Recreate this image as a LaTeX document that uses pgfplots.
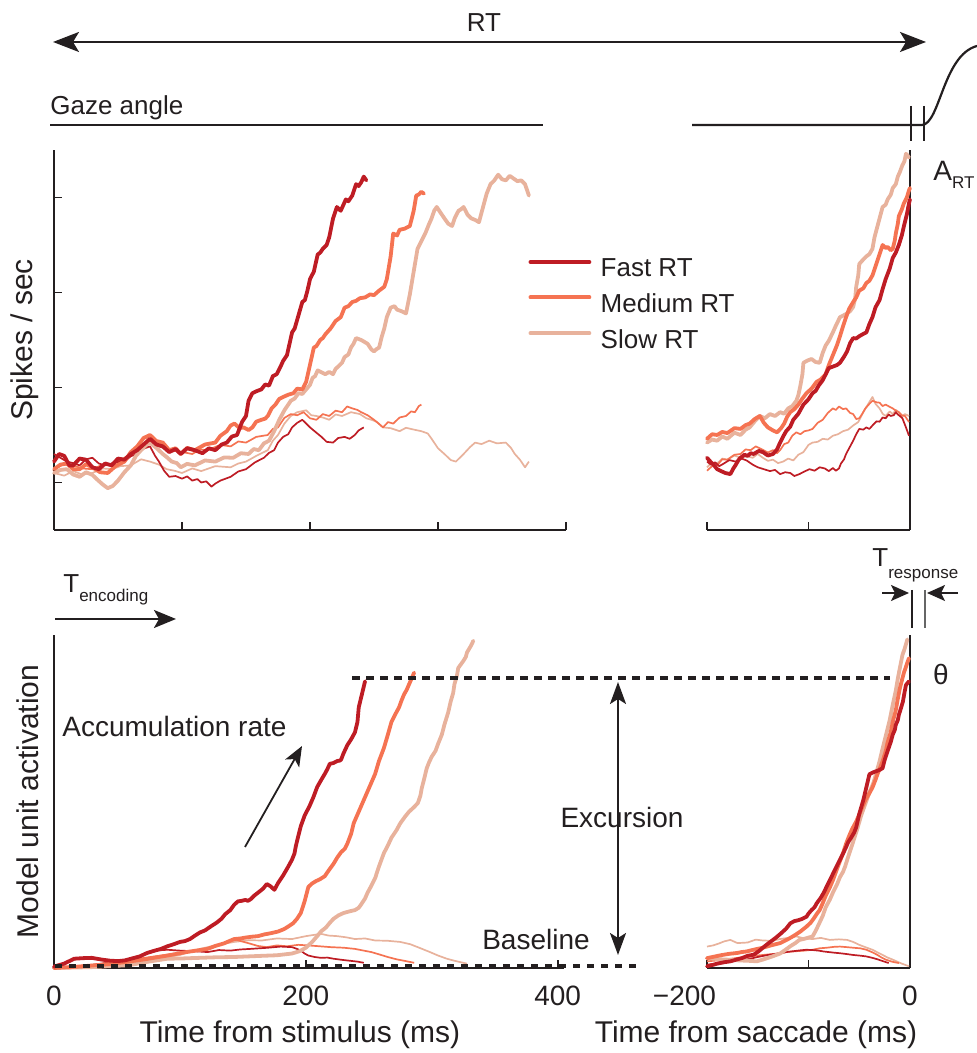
\documentclass[border=0pt]{standalone}
\usepackage{pgfplots}
\pgfplotsset{compat=1.18}
\usepackage{fontspec}
\setmainfont{Liberation Sans}
\usetikzlibrary{arrows.meta}

\definecolor{fastc}{RGB}{190,28,36}
\definecolor{medc}{RGB}{245,115,82}
\definecolor{slowc}{RGB}{232,178,156}
\definecolor{ink}{RGB}{35,31,32}

\newcommand\fmain{\fontsize{14}{17}\selectfont}
\newcommand\flab{\fontsize{15}{18}\selectfont}
\newcommand\fsmall{\fontsize{13}{15}\selectfont}
\newcommand\ftiny{\fontsize{8.5}{10}\selectfont}

\pgfplotsset{
  panel/.style={
    scale only axis, clip=false,
    axis line style={line width=1.2pt, ink},
    every tick/.style={line width=0.9pt, ink},
    tick align=inside, major tick length=4pt,
    tick label style={font=\fmain, text=ink},
    xticklabel style={anchor=base, yshift=-18.5pt},
    label style={font=\flab, text=ink},
  },
  strong/.style={line width=1.9pt, line join=round, line cap=round},
  weak/.style={line width=0.85pt, line join=round, forget plot},
}

\begin{document}
\begin{tikzpicture}
\path[use as bounding box] (0pt,0pt) rectangle (488.5pt,526.5pt);

% ---------- neural data, aligned on stimulus ----------
\begin{axis}[panel, at={(27pt,261.5pt)}, anchor=south west,
  width=256pt, height=190pt,
  xmin=0, xmax=400, ymin=0, ymax=100,
  axis x line*=bottom, axis y line*=left,
  xtick={0,100,200,300,400}, xticklabels={},
  ytick={12.5,37.5,62.5,87.5}, yticklabels={},
  ylabel={Spikes / sec},
  ylabel style={at={(axis description cs:-0.03,0.5)}, anchor=south, inner sep=0pt},
  reverse legend, legend cell align=left,
  legend image code/.code={\draw[#1] (0pt,3.6pt) -- (29.5pt,3.6pt);},
  legend style={draw=none, fill=none, at={(axis description cs:0.926,0.72)},
    anchor=north west, inner sep=0pt, row sep=5pt, font=\fsmall, text=ink,
    nodes={inner sep=1pt}, /tikz/every odd column/.append style={column sep=3.7pt}},
]
\addplot[weak, slowc] coordinates {(0,15)(8,14.3)(15,15.5)(22,14.6)(30,15)(38,16.2)(45,16)(52,16.8)(60,17)(68,18.6)(75,18)(82,17.2)(88,16)(94,15.6)(100,15)(108,16.2)(115,15.5)(126,16.8)(138,16.5)(144,17.5)(150,18)(158,19.5)(167,21)(171,23.5)(175,25)(180,28)(185,30)(190,31)(197,31.5)(201,30.2)(205,30)(210,29.6)(215,29)(220,30.4)(225,30)(232,31)(239,30.5)(244,29.4)(248,29)(252,28.5)(257,27)(263,26.8)(270,26)(275,26.9)(280,26.5)(287,26)(292,25.4)(295,24)(300,21.5)(305,20)(310,18.4)(314,18)(320,20)(325,21.8)(329,23)(334,22.6)(340,23.5)(346,22.8)(353,23)(357,21.6)(360,20)(364,18.5)(368,16.5)(371,18)};
\addplot[weak, medc] coordinates {(0,16)(7,17.2)(15,17)(22,16.2)(30,16)(38,17.2)(45,17)(52,18.4)(60,20)(68,21.8)(75,23)(82,22)(90,21)(99,20.6)(108,20)(114,21.2)(120,21)(130,22.4)(138,22)(144,23.3)(150,23)(158,24.5)(167,25)(171,26.6)(175,27)(180,29.5)(185,30.5)(190,30.2)(195,31)(200,29.4)(205,29)(210,30.5)(215,30)(220,31.4)(225,31)(229,32.5)(233,32)(237,31.6)(240,31)(245,30.2)(250,29)(254,27.9)(257,27)(261,28.4)(265,28)(270,29.6)(275,30)(279,31.2)(282,31)(285,32.6)(287,33)};
\addplot[weak, fastc] coordinates {(0,20)(5,19)(10,18)(15,17.6)(20,17)(25,18.6)(30,19)(35,17.5)(40,17)(48,17.8)(55,18)(60,19.4)(65,20)(70,21.4)(75,22)(79,19.5)(82,18)(86,15.6)(90,14)(95,14.2)(100,13.5)(104,14.1)(108,13)(112,13.4)(115,12.5)(119,12.8)(123,11.4)(126,12.2)(130,13)(134,13.5)(138,14)(144,15.4)(150,16)(157,17.8)(164,19)(168,20.3)(172,21)(175,23)(179,24.5)(183,25.2)(186,27)(190,28.2)(194,29)(197,28)(200,27)(205,25.6)(209,24.5)(213,23.2)(218,23)(222,24.2)(227,24.5)(231,24)(235,25)(238,26.2)(242,27)};
\addplot[strong, slowc] coordinates {(0,15)(5,15.8)(10,16)(15,14.6)(20,14)(25,15.2)(30,14.5)(34,13.2)(38,12)(42,11)(46,11.6)(50,13)(55,15.2)(60,17)(64,19.5)(68,21)(72,22.4)(75,23)(80,21.6)(85,20)(88,19.2)(92,18)(96,17.6)(99,16.5)(104,17.4)(110,17)(118,18.3)(126,18)(133,19.1)(140,19)(146,20.2)(152,20)(156,21.3)(160,21)(164,22.8)(168,23.5)(172,26)(176,29)(180,31.5)(185,34)(188,34.6)(191,36)(194,35.8)(197,37)(200,38.2)(202,40)(204,40.5)(206,42)(209,41.5)(212,41)(215,41.6)(218,41)(220,42.4)(222,43)(225,44)(227,45.5)(230,46.2)(232,48)(234,49)(236,50.5)(240,50)(245,49)(248,47.5)(250,47)(252,47.6)(254,48)(256,50.8)(258,53)(260,56)(263,58.5)(266,58.9)(268,58)(272,57.5)(275,57)(278,62)(280,66)(282,70)(284,74)(287,76)(290,78)(293,80.5)(295,82)(297,84)(299,85)(302,83.5)(305,82)(308,80.6)(311,80)(313,82)(316,84)(318,84.4)(320,85)(323,83)(326,82)(329,81.6)(332,81)(334,83.5)(336,86)(338,88.5)(341,91)(344,92)(347,93.5)(350,92.3)(353,92)(356,93.2)(359,92.5)(362,91.8)(365,92)(368,91)(371,88)};
\addlegendentry{Slow RT}
\addplot[strong, medc] coordinates {(0,16)(5,17.2)(10,17.5)(15,16)(20,16)(25,17.3)(30,16.5)(36,15.2)(42,15)(48,16.8)(55,18)(60,20.5)(65,22)(70,24.2)(75,25)(80,23.4)(85,23)(90,21)(95,21.5)(99,20)(104,21.6)(110,21)(118,22.5)(126,23)(130,24.8)(135,26)(138,27.5)(141,28)(145,26.8)(148,27)(152,26.3)(155,27)(158,28.5)(162,29)(165,29.3)(167,30)(170,32)(173,33)(176,34.5)(179,35)(183,35.6)(187,36)(190,37.2)(194,37)(197,39)(199,42)(201,45)(203,48)(205,48.4)(208,50)(210,50.5)(212,51.5)(216,53)(220,55)(224,56)(227,58.5)(230,58.9)(233,60)(236,60.3)(239,61)(243,61.2)(247,62)(250,61.8)(254,63)(258,64)(260,66)(262,70)(263,72)(265,78)(268,77.5)(270,79)(274,79.3)(278,80)(281,84)(283,88)(285,88.3)(287,89)(289,88.5)};
\addlegendentry{Medium RT}
\addplot[strong, fastc] coordinates {(0,18)(4,20)(8,19.5)(12,17)(15,17)(20,18.8)(25,18.5)(30,16.5)(35,16)(40,17.5)(45,17)(50,18.8)(55,18.5)(60,20)(65,21)(70,22.5)(75,24)(80,22.5)(85,22)(90,20.5)(95,21.3)(99,20)(104,21.5)(110,21)(116,20.2)(121,21.5)(126,21)(131,22.5)(135,23)(139,24.6)(143,25)(147,28.5)(150,30)(152,34)(155,36)(158,36.5)(162,37)(165,38.3)(168,38)(171,40.5)(174,41)(177,43)(179,44.5)(182,46)(184,49)(186,52)(188,53)(191,56.5)(194,60)(196,60.5)(198,63)(200,66)(203,68)(206,72.5)(208,73)(210,74)(213,75)(215,77)(218,82)(221,85)(224,84)(226,85.5)(228,87)(230,86.5)(233,88)(236,91)(238,90.5)(240,91.5)(242,93)(244,92)};
\addlegendentry{Fast RT}
\end{axis}

% ---------- neural data, aligned on saccade ----------
\begin{axis}[panel, at={(353.5pt,261.5pt)}, anchor=south west,
  width=101.5pt, height=190pt,
  xmin=-200, xmax=0, ymin=0, ymax=100,
  axis x line*=bottom, axis y line*=right,
  xtick={-200,-100,0}, xticklabels={}, ytick=\empty,
]
\addplot[weak, slowc] coordinates {(-200,16.5)(-195,17.8)(-190,17.5)(-185,18.8)(-180,18.5)(-173,19.6)(-167,19)(-161,19.4)(-155,19)(-150,20)(-145,19)(-140,18.2)(-135,18.5)(-130,17.6)(-125,18)(-120,18.8)(-115,18.3)(-110,19.8)(-105,20.5)(-100,22.4)(-96,23)(-91,23.2)(-86,24)(-81,23.8)(-76,24.8)(-71,25.2)(-66,26)(-61,26.4)(-56,27.5)(-51,28.4)(-46,31)(-42,32.8)(-37,35)(-34,33.2)(-30,32)(-27,30.6)(-24,30)(-20,31.2)(-17,30.5)(-14,31.6)(-11,31)(-8,29.8)(-5,30.5)(-1,30)};
\addplot[weak, medc] coordinates {(-200,15.6)(-195,16.8)(-190,17)(-185,18.6)(-180,18.5)(-173,19.8)(-167,20)(-162,21.2)(-157,21)(-152,22)(-148,21.5)(-140,20.4)(-135,21)(-131,20.2)(-128,21)(-124,22.6)(-120,23)(-116,24.8)(-112,25.7)(-108,25.2)(-104,26)(-100,26.2)(-96,26.6)(-91,28.2)(-86,29)(-81,30.8)(-76,32)(-73,31.6)(-70,32.5)(-66,31.8)(-63,32)(-59,30.8)(-56,30.5)(-53,29.2)(-50,29.4)(-47,30.6)(-44,32)(-40,33.2)(-37,34)(-33,33.6)(-30,33.5)(-27,32.6)(-24,33)(-20,32.4)(-17,32)(-14,31.4)(-11,31)(-8,30.2)(-5,30)(-1,28.4)};
\addplot[weak, fastc] coordinates {(-200,18)(-196,17.2)(-192,17.8)(-188,16.8)(-184,17.4)(-178,18.4)(-172,18)(-166,18.8)(-161,18.3)(-155,17.2)(-150,16.5)(-144,16)(-138,15.5)(-133,15.8)(-128,14.7)(-123,15.2)(-118,15)(-114,14.2)(-109,14.7)(-104,15.4)(-99,16)(-94,15.6)(-89,16.5)(-84,16.2)(-80,15.5)(-76,16.3)(-73,15.6)(-70,16.2)(-68,17.5)(-65,18.6)(-63,20)(-59,22)(-56,23.5)(-53,25.2)(-50,26.6)(-46,26.4)(-43,27)(-40,26.6)(-37,27.5)(-33,28.6)(-30,28.5)(-27,29.6)(-24,29.4)(-21,30.4)(-19,30)(-16,30.2)(-14,31)(-12,30.4)(-10,30)(-7.5,29.4)(-4,27)(-1,24.8)};
\addplot[strong, slowc] coordinates {(-200,23)(-195,23.8)(-190,23.5)(-185,24.6)(-180,24)(-173,25.6)(-167,25)(-162,26.4)(-158,27)(-153,28.6)(-148,30)(-143,29.4)(-138,30.5)(-133,30)(-128,31)(-124,30.6)(-120,32)(-116,32.6)(-112,34)(-110,35.5)(-108,38)(-106,41)(-105,44)(-101,44.6)(-97,45)(-93,44.2)(-89,44)(-86,46.6)(-83,48.6)(-80,49.8)(-76,52)(-73,53.8)(-69,56)(-66,56.4)(-62,57)(-59,57.6)(-56,58.7)(-54,61)(-53,64)(-51,67)(-50,70)(-46,71.2)(-43,72)(-40,72.6)(-37,74)(-35,77)(-32,80)(-30,82)(-27,85)(-24,85.6)(-22,87)(-19,88.2)(-17,90)(-14,91)(-12,93)(-10,94.2)(-7.5,96)(-5.5,97)(-4,99)(-2.5,98.6)(-1,98)};
\addplot[strong, medc] coordinates {(-200,24)(-195,25.2)(-190,25)(-185,25.8)(-180,25.5)(-173,26.8)(-167,26.6)(-162,27.6)(-158,28)(-153,29.2)(-148,30)(-144,28.2)(-140,27)(-135,26.2)(-131,25.7)(-127,26.8)(-124,28)(-121,29.8)(-118,31)(-114,31.8)(-110,33)(-106,34.6)(-102,36)(-97,37.2)(-92,39)(-88,39.6)(-83,41)(-80,43.4)(-76,46)(-72,48.6)(-69,51)(-66,53.6)(-63,56)(-60,58.2)(-56,60)(-53,61.2)(-50,63)(-46,63.6)(-43,65)(-40,65.6)(-37,67)(-34,69.4)(-32,71)(-29,73.4)(-27,75)(-24,74.2)(-22,74.5)(-19,73.6)(-17,74)(-15,76.2)(-14,78)(-12,80.6)(-11,82.6)(-8,84.4)(-6,86)(-3,87.6)(-1,89.4)(0,90)};
\addplot[strong, fastc] coordinates {(-200,19)(-196,17.8)(-193,17)(-190,16)(-187,15.6)(-182,15)(-177,14.7)(-174,16.2)(-172,17)(-169,18.4)(-167,19)(-163,19.8)(-160,19.5)(-157,20.2)(-154,20)(-149,20.8)(-145,20.5)(-140,19.6)(-135,20)(-131,21.2)(-128,23)(-125,24.6)(-122,26)(-118,27.2)(-115,29)(-110,30.6)(-105,33)(-100,34.4)(-96,36)(-93,36.6)(-90,38)(-86,39.4)(-83,41)(-80,42.6)(-76,43)(-72,43.4)(-69,44)(-65,45.6)(-62,47)(-59,49.2)(-56,50.5)(-53,50.4)(-50,51)(-46,51.6)(-43,52)(-40,54.2)(-37,56)(-34,58.6)(-30,60.5)(-27,63.4)(-24,66)(-20,68.8)(-17,71.6)(-14,73)(-11,75)(-8,77.6)(-6,80)(-3,83.2)(-1,86)(0,87)};
\end{axis}

% ---------- model, aligned on stimulus ----------
\begin{axis}[panel, at={(27pt,42.5pt)}, anchor=south west,
  width=255pt, height=166.5pt,
  xmin=0, xmax=405, ymin=0, ymax=115,
  axis x line*=bottom, axis y line*=left,
  xtick={0,200,400}, xticklabels={0,200,400}, ytick=\empty,
  xlabel={Time from stimulus (ms)},
  xlabel style={at={(axis description cs:0.482,-0.2252)}, anchor=base, inner sep=0pt},
  ylabel={Model unit activation},
  ylabel style={at={(axis description cs:-0.03,0.5)}, anchor=south, inner sep=0pt},
]
\addplot[weak, slowc] coordinates {(0,0)(40,1)(80,3)(100,4.5)(116,6.6)(130,8)(143,9)(155,9.6)(165,9.5)(177,10.2)(189,10)(200,11)(212,11.8)(218,11.2)(225,11)(232,10.6)(239,10)(247,10.2)(255,9.5)(265,9.4)(275,9)(283,8.2)(290,7)(298,5.6)(305,4.3)(312,3.2)(318,2.5)(328,1.5)};
\addplot[weak, medc] coordinates {(0,0)(40,1.5)(80,4)(105,5.5)(122,6.6)(130,7.8)(135,8.5)(143,10)(149,9.2)(155,8.5)(162,7.6)(169,7.2)(177,7.8)(185,7.5)(194,8)(202,7.8)(211,7.5)(220,7.2)(230,7)(239,6.6)(246,6)(252,5.5)(259,4.6)(265,3.8)(272,3)(278,2.5)(286,1.8)};
\addplot[weak, fastc] coordinates {(0,0)(30,1)(60,3)(80,6)(90,6.3)(100,6)(111,5.8)(122,5.5)(131,6.2)(140,6)(148,6.4)(156,6.6)(163,6.8)(170,7)(180,7.4)(189,7.2)(193,6.6)(196,6)(199,5)(202,4.3)(207,3.8)(212,3.5)(217,3.6)(222,3.2)(229,2.8)(235,2.5)(241,2.2)(246,1.8)};
\addplot[strong, slowc] coordinates {(0,0)(30,0.3)(60,1)(75,2.2)(90,3.2)(102,3.3)(115,3.5)(129,3.7)(143,3.8)(154,4)(165,4.2)(177,4.4)(189,5)(195,5.8)(200,7)(205,9)(209,11)(212,12.6)(216,14)(219,15.6)(222,17)(226,18.2)(230,19)(235,19.6)(239,20)(242,20.8)(244,22)(247,24)(249,26)(252,28.4)(255,31)(258,35)(262,39.7)(265,42.2)(268,45)(272,47.6)(275,50)(279,52.4)(282,54)(286,55.6)(289,57)(291,59.6)(292,62)(294,65.4)(296,69)(298,71.2)(300,73)(303,75)(305,77.4)(308,80.6)(310,84)(313,88.2)(315,92)(317,95)(318,98)(320,101)(321,103.6)(323,104.8)(325,106)(327,107.4)(328,109)(331,111.2)(333,113)};
\addplot[strong, medc] coordinates {(0,0)(20,0.5)(40,1.2)(56,2)(72,3)(90,4.3)(105,5.5)(122,6.6)(128,7.6)(135,8.5)(143,10)(148,10.2)(152,10.5)(157,10.8)(162,11)(167,11.6)(172,12)(178,12.6)(183,13.5)(187,14.6)(190,15.5)(193,17)(196,19)(199,23)(202,28)(205,29.2)(208,30)(211,30.6)(215,31.7)(218,33.6)(222,36)(225,38.2)(228,40)(231,41.2)(233,43)(236,46.4)(238,50)(242,54)(246,58)(250,62)(255,67)(258,71.4)(262,76)(265,80.4)(268,85)(271,87.6)(274,90)(276,92.4)(278,94.5)(280,96)(282,98)(284,100)(286,102)};
\addplot[strong, fastc] coordinates {(0,0.5)(8,1.5)(16,3.2)(23,3.4)(30,3.5)(38,2.9)(45,2.5)(51,2.4)(56,2.6)(62,3.3)(68,4)(74,5.2)(80,6)(85,6.6)(90,7.5)(95,8.2)(100,9)(104,9.3)(108,10)(112,11.2)(116,12.3)(120,13)(125,14.5)(129,15.6)(133,17)(136,18.6)(140,20)(143,21.8)(146,23)(149,23.2)(152,23.5)(154,23.2)(156,23.7)(159,25)(162,26)(166,27.4)(169,29)(172,28.2)(175,27)(178,29.4)(182,32)(186,35)(189,37.4)(191,39.6)(192,42)(194,45.6)(196,49)(199,52.6)(203,56)(206,59)(209,62.5)(212,64.8)(215,67)(217,68.6)(219,70.5)(222,70.8)(225,71.5)(227,71.6)(228,72)(230,74.2)(233,77)(236,79)(239,81.4)(241,85)(242,90)(244,93.6)(247,99)};
\end{axis}

% ---------- model, aligned on saccade ----------
\begin{axis}[panel, at={(353.5pt,42.5pt)}, anchor=south west,
  width=101.5pt, height=166.5pt,
  xmin=-200, xmax=0, ymin=0, ymax=115,
  axis x line*=bottom, axis y line*=right,
  xtick={-200,-100,0}, xticklabels={\makebox[0pt][r]{−200\hspace*{-4.5pt}},,0}, ytick=\empty,
  xlabel={Time from saccade (ms)},
  xlabel style={at={(axis description cs:0.241,-0.2252)}, anchor=base, inner sep=0pt},
]
\addplot[weak, slowc] coordinates {(-200,7.4)(-194,7.8)(-188,8.5)(-183,9.2)(-177,9.7)(-170,8.6)(-160,8.8)(-152,9.8)(-145,9.5)(-136,9.4)(-128,10)(-120,10.4)(-112,10.9)(-104,10.2)(-96,10)(-88,10.4)(-79,9.7)(-70,9.9)(-62,9.7)(-56,9)(-50,8)(-44,7.2)(-37,6.3)(-32,5.4)(-27,4.5)(-22,3.6)(-17,2.9)(-12,2.1)(-8,1.5)(-1,0.6)};
\addplot[weak, medc] coordinates {(-200,2.3)(-190,2.6)(-180,3)(-170,3.5)(-161,3.7)(-153,4.2)(-145,4.5)(-136,4.8)(-128,5.1)(-120,5.6)(-112,5.8)(-104,6)(-96,6.3)(-89,6.8)(-82,7)(-75,7.3)(-69,7.4)(-62,7.2)(-56,7)(-49,6.8)(-43,6.3)(-37,5.4)(-32,4.5)(-28,3.6)(-24,2.9)(-18,2.2)(-11,1.7)};
\addplot[weak, fastc] coordinates {(-200,1.1)(-190,1.6)(-180,2)(-170,2.6)(-160,3)(-150,3.8)(-140,4.5)(-134,4.8)(-128,5.1)(-122,5.5)(-115,5.8)(-108,6.1)(-102,6.3)(-96,6.2)(-90,6)(-85,5.7)(-80,5.5)(-75,5.3)(-69,5.1)(-62,4.8)(-56,4.5)(-50,4.3)(-43,4)(-37,3.5)(-32,3)(-27,2.4)(-21,1.7)};
\addplot[strong, slowc] coordinates {(-200,3.4)(-193,3.2)(-187,3)(-181,2.9)(-175,2.8)(-168,2.6)(-160,2.5)(-155,2.4)(-151,2.3)(-146,2.8)(-140,3.5)(-134,4.2)(-128,5)(-123,6.2)(-118,7.5)(-113,8.6)(-109,9.7)(-105,10)(-102,10.3)(-99,10.6)(-96,10.9)(-93,12.8)(-90,15)(-86,18)(-83,21)(-79,23.6)(-76,26)(-72,28.8)(-69,31.4)(-66,33.2)(-64,35)(-62,37.2)(-60,39.4)(-56,43.6)(-52,48)(-48,52.8)(-43,57.7)(-40,60.6)(-36,64)(-33,67.6)(-30,71.4)(-27,75.8)(-24,80)(-20,85.6)(-17,90.9)(-14,95.8)(-12,100)(-10,103.6)(-7.5,108)(-5,110.6)(-2.6,113.5)};
\addplot[strong, medc] coordinates {(-200,3.4)(-192,4)(-185,4.5)(-178,4.9)(-170,5.2)(-166,5.5)(-161,5.7)(-153,6.4)(-145,7)(-137,7.8)(-128,8.6)(-121,9.8)(-115,11)(-108,12.6)(-102,14.3)(-98,15.6)(-95,17)(-92,18.6)(-89,20)(-86,22.4)(-83,25)(-79,27.8)(-76,30.3)(-73,33.2)(-70,36)(-66,39.6)(-63,42.9)(-60,45.6)(-57,48)(-53,50.6)(-50,53)(-47,55.6)(-44,58)(-40,60.4)(-37,62.3)(-34,65)(-32,67)(-29,69.6)(-27,71.4)(-24,74.8)(-22,78)(-19,81.4)(-17,85)(-14,89)(-12,93)(-10,96.6)(-7.5,100)(-6,102)(-4,104)(-2.5,105.6)(-1,107)};
\addplot[strong, fastc] coordinates {(-200,0.6)(-195,1)(-190,1.5)(-183,2)(-177,2.3)(-171,2.9)(-165,3.5)(-160,4.2)(-154,4.6)(-149,5.8)(-145,7)(-140,8.4)(-135,9.7)(-131,10.8)(-127,12)(-122,13.6)(-118,15.4)(-114,16.2)(-110,16.5)(-106,17)(-102,17.7)(-100,18.8)(-97,20)(-94,21)(-92,22.3)(-88,24.2)(-85,26)(-82,28.2)(-79,30.3)(-75,33.2)(-71,36)(-67,38.8)(-63,41.7)(-61,43.4)(-58,45)(-55,46.8)(-53,48.6)(-50,53.2)(-46,58)(-43,62.4)(-40,66.9)(-36,67.6)(-33,68)(-30,68.4)(-27,69)(-25,71.8)(-22,75)(-19,78)(-17,80.6)(-15,82.2)(-14,84)(-12,85.6)(-11,87.4)(-9,89.6)(-7,92)(-5.5,95)(-4,97.7)(-2.5,98.4)(-1,99)};
\end{axis}

% ---------- annotations, in pixel units of the reference ----------
\begin{scope}[x=0.5pt, y=-0.5pt, shift={(0pt,526.5pt)}, ink]
  % RT
  \draw[line width=1.1pt, {Stealth[length=13pt,width=10pt,inset=3pt]}-{Stealth[length=13pt,width=10pt,inset=3pt]}]
    (53,42) -- (926,42);
  \node[font=\fsmall, anchor=base, inner sep=0pt] at (484,32) {RT};
  % gaze angle trace
  \node[font=\fsmall, anchor=base west, inner sep=0pt] at (50,115) {Gaze angle};
  \draw[line width=1.1pt] (50,125) -- (543,125);
  \draw[line width=1.1pt] (692,125) -- (922,125)
    .. controls (940,124) and (943,55) .. (977,46);
  \draw[line width=0.6pt] (911,106) -- (911,141);
  \draw[line width=0.6pt] (924,106) -- (924,141);
  \node[font=\fmain, anchor=base west, inner sep=0pt] at (933,181)
    {A\raisebox{-4pt}{\ftiny RT}};
  % encoding time
  \node[font=\fsmall, anchor=base west, inner sep=0pt] at (63,593)
    {T\raisebox{-4.5pt}{\ftiny encoding}};
  \draw[line width=1.1pt, -{Stealth[length=11pt,width=9pt,inset=2.5pt]}] (55,619) -- (176,619);
  % response time
  \node[font=\fsmall, anchor=base west, inner sep=0pt] at (872,567)
    {T\raisebox{-6pt}{\ftiny response}};
  \draw[line width=0.9pt, -{Stealth[length=9pt,width=8pt,inset=2pt]}] (882,593) -- (909,593);
  \draw[line width=0.9pt, -{Stealth[length=9pt,width=8pt,inset=2pt]}] (958,593) -- (927,593);
  \draw[line width=0.6pt] (912,590) -- (912,628);
  \draw[line width=0.6pt, black!60] (925,590) -- (925,628);
  % threshold and baseline
  \draw[line width=2.2pt, dash pattern=on 3.8pt off 3.2pt] (352,678) -- (890,678);
  \draw[line width=2.2pt, dash pattern=on 3.5pt off 3.5pt] (55,966) -- (640,966);
  \node[font=\fmain] at (941,675) {θ};
  \draw[line width=1.1pt, {Stealth[length=11pt,width=8pt,inset=2.5pt]}-{Stealth[length=11pt,width=8pt,inset=2.5pt]}]
    (618,682) -- (618,955);
  \node[font=\fmain] at (622,817) {Excursion};
  \node[font=\fmain, anchor=base, inner sep=0pt] at (536,950) {Baseline};
  % accumulation rate
  \node[font=\fmain, anchor=base west, inner sep=0pt] at (62,737) {Accumulation rate};
  \draw[line width=0.9pt, -{Stealth[length=10pt,width=8pt,inset=2.5pt]}] (245,847) -- (302,746);
\end{scope}
\end{tikzpicture}
\end{document}
